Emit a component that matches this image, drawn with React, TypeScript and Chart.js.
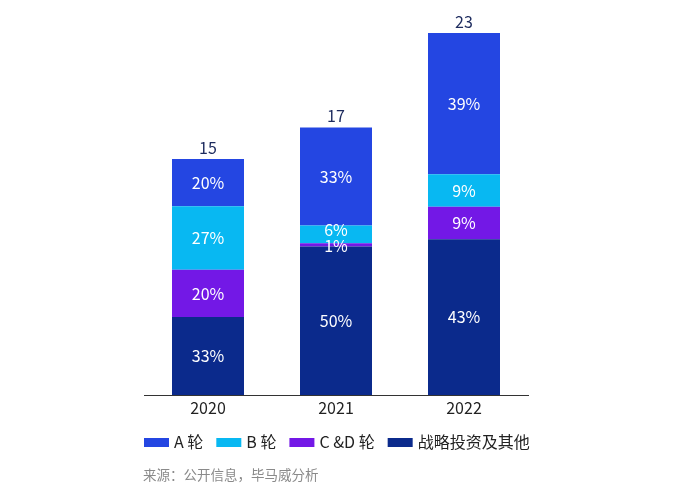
import React, { useEffect, useRef } from "react";
import { Chart, registerables } from "chart.js";

Chart.register(...registerables);

const years = ["2020", "2021", "2022"];
const totals = [15, 17, 23];
const seriesNames = ["战略投资及其他", "C &D 轮", "B 轮", "A 轮"];
const strategicValues = [4.95, 9.44, 9.89];
const cdValues = [3.0, 0.2, 2.07];
const bValues = [4.05, 1.13, 2.07];
const aValues = [3.0, 6.23, 8.97];
const strategicPct = ["33%", "50%", "43%"];
const cdPct = ["20%", "1%", "9%"];
const bPct = ["27%", "6%", "9%"];
const aPct = ["20%", "33%", "39%"];
const legendOrder = ["A 轮", "B 轮", "C &D 轮", "战略投资及其他"];
const sourceText = "来源：公开信息，毕马威分析";

const colors = ["#0b2a8c", "#7318e6", "#08b8f2", "#2446e2"];
const FONT = "'Noto Sans CJK SC', 'Noto Sans', sans-serif";

export default function App() {
  const ref = useRef<HTMLCanvasElement | null>(null);
  useEffect(() => {
    document.body.style.margin = "0";
    const pctLists = [strategicPct, cdPct, bPct, aPct];
    const labelPlugin = {
      id: "labels",
      afterDatasetsDraw(chart: any) {
        const ctx = chart.ctx;
        ctx.save();
        ctx.textAlign = "center";
        ctx.textBaseline = "middle";
        ctx.font = `16px ${FONT}`;
        ctx.fillStyle = "#ffffff";
        chart.data.datasets.forEach((ds: any, di: number) => {
          const meta = chart.getDatasetMeta(di);
          meta.data.forEach((bar: any, i: number) => {
            const cy = (bar.y + bar.base) / 2;
            let y = cy;
            if (di === 2 && i === 1) y = cy - 4;
            if (di === 1 && i === 1) y = cy + 1;
            ctx.fillText(pctLists[di][i], bar.x, y);
          });
        });
        const top = chart.getDatasetMeta(chart.data.datasets.length - 1);
        ctx.fillStyle = "#1d2b5e";
        ctx.textBaseline = "alphabetic";
        top.data.forEach((bar: any, i: number) => {
          ctx.fillText(String(totals[i]), bar.x, bar.y - 5);
        });
        ctx.restore();
      },
      afterDraw(chart: any) {
        const ctx = chart.ctx;
        ctx.save();
        // category labels
        const xs = chart.scales.x;
        ctx.font = `16px ${FONT}`;
        ctx.fillStyle = "#222222";
        ctx.textAlign = "center";
        ctx.textBaseline = "middle";
        chart.data.labels.forEach((lab: string, i: number) => {
          ctx.fillText(lab, xs.getPixelForValue(i), chart.chartArea.bottom + 13);
        });
        // legend
        let x = 144;
        const y = 442;
        ctx.textAlign = "left";
        legendOrder.forEach((name) => {
          const di = chart.data.datasets.findIndex((d: any) => d.label === name);
          const ds = chart.data.datasets[di];
          ctx.fillStyle = ds.backgroundColor;
          ctx.fillRect(x, y - 4, 25, 9);
          x += 30;
          ctx.fillStyle = "#222222";
          ctx.fillText(name, x, y);
          x += ctx.measureText(name).width + 13;
        });
        ctx.font = `13.5px ${FONT}`;
        ctx.fillStyle = "#8a8a8a";
        ctx.fillText(sourceText, 143, 475);
        ctx.restore();
      },
    };

    const valueLists = [strategicValues, cdValues, bValues, aValues];
    const chart = new Chart(ref.current!, {
      type: "bar",
      data: {
        labels: years,
        datasets: seriesNames.map((name, i) => ({
          label: name,
          data: valueLists[i],
          backgroundColor: colors[i],
          borderWidth: 0,
          categoryPercentage: 1,
          barPercentage: 0.5625,
        })),
      },
      options: {
        animation: false,
        responsive: false,
        devicePixelRatio: 1,
        layout: { padding: { left: 144, right: 172, top: 33, bottom: 100 } },
        plugins: { legend: { display: false }, tooltip: { enabled: false } },
        scales: {
          x: {
            stacked: true,
            grid: { display: false, drawTicks: false },
            border: { display: true, color: "#333333", width: 1 },
            ticks: { display: false },
          },
          y: {
            stacked: true,
            display: false,
            min: 0,
            max: 23,
          },
        },
      },
      plugins: [labelPlugin],
    });
    return () => chart.destroy();
  }, []);
  return (
    <div style={{ width: 700, height: 495, background: "#fff" }}>
      <canvas ref={ref} width={700} height={495} />
    </div>
  );
}
